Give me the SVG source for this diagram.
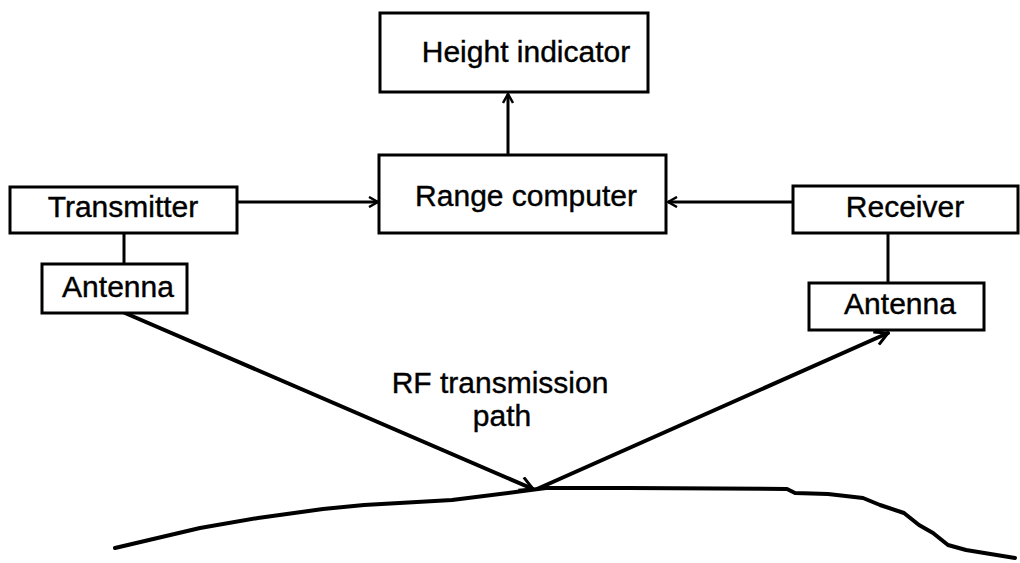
<svg xmlns="http://www.w3.org/2000/svg" width="1020" height="563" viewBox="0 0 1020 563">
<defs>
<style>
.box{fill:#fff;stroke:#000;stroke-width:3}
.lbl{font-family:"Liberation Sans",Arial,sans-serif;font-size:30px;fill:#000;stroke:#000;stroke-width:0.4;text-anchor:middle}
.ln{stroke:#000;stroke-width:3;fill:none}
.ray{stroke:#000;stroke-width:4;fill:none;stroke-linejoin:round;stroke-linecap:round}
</style>
<marker id="arr" viewBox="0 0 12 12" refX="11" refY="6" markerWidth="12" markerHeight="12" markerUnits="userSpaceOnUse" orient="auto">
<path d="M2,1 L11,6 L2,11" fill="none" stroke="#000" stroke-width="2.5"/>
</marker>
<marker id="arr2" viewBox="0 0 16 16" refX="15" refY="8" markerWidth="16" markerHeight="16" markerUnits="userSpaceOnUse" orient="auto">
<path d="M2,1 L15,8 L2,15" fill="none" stroke="#000" stroke-width="3"/>
</marker>
</defs>
<rect width="1020" height="563" fill="#fff"/>
<g id="connectors">
<line class="ln" x1="508" y1="155" x2="508" y2="94" marker-end="url(#arr)"/>
<line class="ln" x1="237" y1="202" x2="378" y2="202" marker-end="url(#arr)"/>
<line class="ln" x1="793" y1="202" x2="668" y2="202" marker-end="url(#arr)"/>
<line class="ln" x1="124" y1="233" x2="124" y2="264"/>
<line class="ln" x1="888" y1="233" x2="888" y2="283"/>
<line class="ray" x1="125" y1="313" x2="533" y2="489" marker-end="url(#arr2)"/>
<line class="ray" x1="537" y1="489" x2="888" y2="333" marker-end="url(#arr2)"/>
</g>
<g id="ground">
<polyline class="ray" points="115,548 200,528 258,518 323,509 364,505 417,502 452,500 523,491 546,488 628,488 787,489 795,493 828,494 863,498 880,505 904,513 919,525 933,533 948,545 966,550 1015,558"/>
</g>
<g id="height-indicator">
<rect class="box" x="380" y="13" width="268" height="79"/>
<text class="lbl" x="526" y="62">Height indicator</text>
</g>
<g id="range-computer">
<rect class="box" x="379" y="155" width="287" height="78"/>
<text class="lbl" x="526" y="206">Range computer</text>
</g>
<g id="transmitter">
<rect class="box" x="10" y="187" width="227" height="46"/>
<text class="lbl" x="123" y="217">Transmitter</text>
</g>
<g id="antenna-left">
<rect class="box" x="42" y="264" width="145" height="49"/>
<text class="lbl" x="118" y="297">Antenna</text>
</g>
<g id="receiver">
<rect class="box" x="793" y="186" width="225" height="47"/>
<text class="lbl" x="905" y="217">Receiver</text>
</g>
<g id="antenna-right">
<rect class="box" x="809" y="283" width="175" height="47"/>
<text class="lbl" x="900" y="314">Antenna</text>
</g>
<g id="rf-label">
<text class="lbl" x="500" y="393">RF transmission</text>
<text class="lbl" x="502" y="426">path</text>
</g>
</svg>
